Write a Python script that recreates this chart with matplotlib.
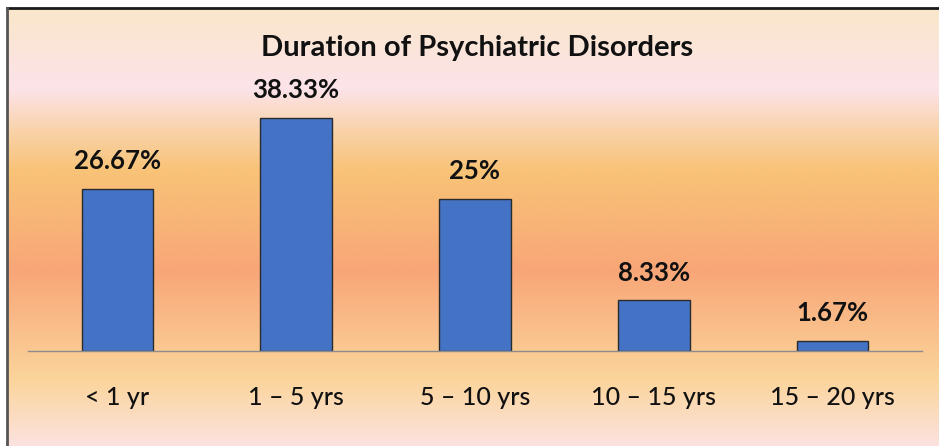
import numpy as np
import matplotlib
matplotlib.use("Agg")
from matplotlib import pyplot as plt
from matplotlib.colors import LinearSegmentedColormap
from matplotlib.lines import Line2D

categories = ["< 1 yr", "1 \u2013 5 yrs", "5 \u2013 10 yrs", "10 \u2013 15 yrs", "15 \u2013 20 yrs"]
values = [26.67, 38.33, 25, 8.33, 1.67]
value_labels = ["26.67%", "38.33%", "25%", "8.33%", "1.67%"]
title = "Duration of Psychiatric Disorders"

plt.rcParams["font.family"] = ["Lato", "DejaVu Sans"]

W, H = 939, 446
fig = plt.figure(figsize=(W / 100, H / 100), dpi=100)
fig.patch.set_facecolor("white")

# background gradient panel (top -> bottom)
stops = [
    (0.00, "#FAE7CA"),
    (0.18, "#FCE3EA"),
    (0.28, "#F9D2A8"),
    (0.37, "#F8C377"),
    (0.60, "#F8A677"),
    (0.85, "#FBD59C"),
    (1.00, "#FCE2DF"),
]
cmap = LinearSegmentedColormap.from_list("bg", stops)
bg = fig.add_axes([8 / W, 0, 1 - 8 / W, (H - 9) / H])
bg.imshow(np.linspace(0, 1, 256).reshape(-1, 1), aspect="auto", cmap=cmap,
          extent=[0, 1, 0, 1], origin="upper")
bg.axis("off")

# frame lines (top and left)
fig.add_artist(Line2D([7 / W, 1], [(H - 8) / H] * 2, color="#1a1a1a", lw=2))
fig.add_artist(Line2D([7 / W] * 2, [0, (H - 8) / H], color="#555555", lw=2))

ax = fig.add_axes([28 / W, (H - 351) / H, (922 - 28) / W, 243 / H])
ax.patch.set_alpha(0)
x = np.arange(len(categories))
ax.bar(x, values, width=0.4, color="#4472C4", edgecolor="#2b2b2b", linewidth=1)
for xi, v, lab in zip(x, values, value_labels):
    ax.annotate(lab, (xi, v), xytext=(0, 20), textcoords="offset points",
                ha="center", va="center", fontsize=18.5, fontweight="bold",
                color="#111111", annotation_clip=False)

ax.set_xlim(-0.5, 4.5)
ax.set_ylim(0, 40)
ax.set_xticks(x)
ax.set_xticklabels(categories, fontsize=18, color="#111111", fontweight="medium")
ax.tick_params(axis="x", length=0, pad=25)
ax.set_yticks([])
for s in ["top", "right", "left"]:
    ax.spines[s].set_visible(False)
ax.spines["bottom"].set_color("#8c8c8c")
ax.spines["bottom"].set_linewidth(1)

fig.text(477 / W, (H - 48) / H, title, ha="center", va="center",
         fontsize=21, fontweight="bold", color="#111111")

fig.savefig("out.png", dpi=100)
